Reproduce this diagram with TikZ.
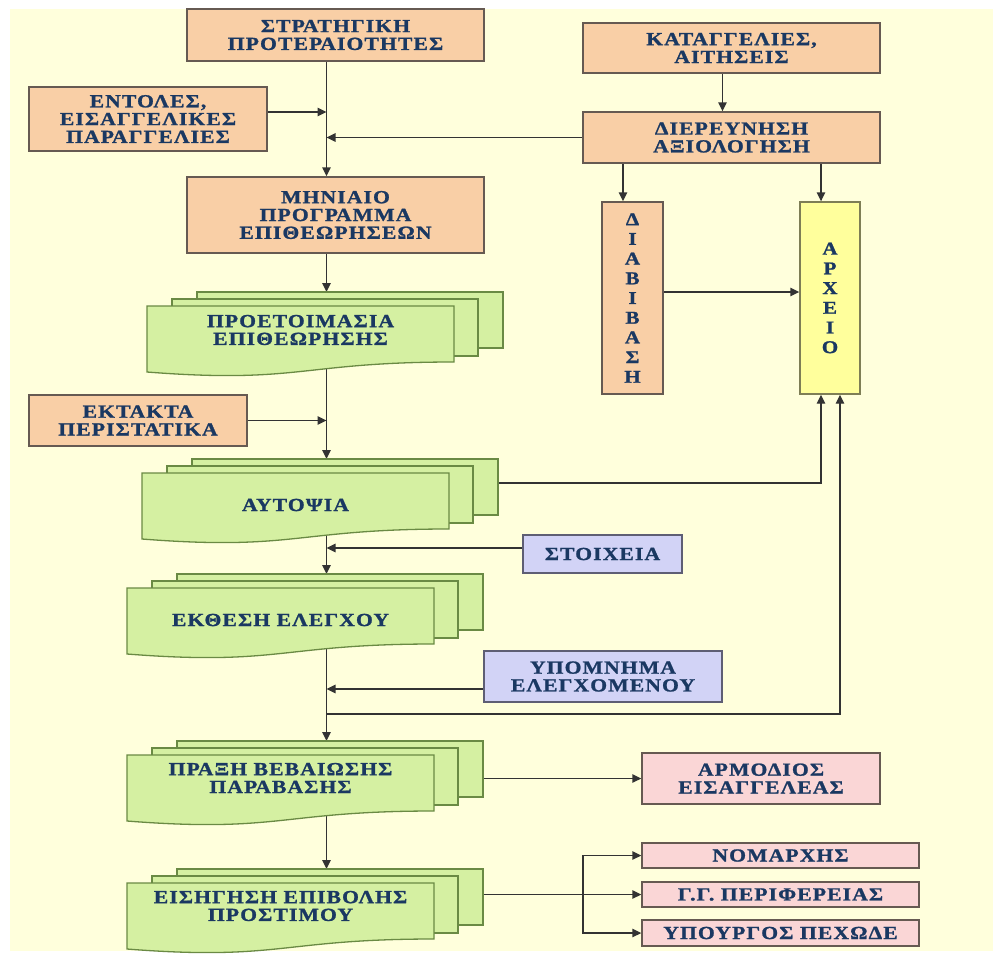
\documentclass[tikz,border=0pt]{standalone}
\usepackage{fontspec}
\newfontfamily\lblfont[FakeStretch=1.17,LetterSpace=6,FakeBold=1.2]{Liberation Serif Bold}
\usetikzlibrary{arrows.meta}
\pgfdeclarelayer{backlayer}
\pgfdeclarelayer{linelayer}
\pgfsetlayers{backlayer,linelayer,main}
\definecolor{bgy}{HTML}{FFFFDC}
\definecolor{orng}{HTML}{F9CFA6}
\definecolor{lav}{HTML}{D2D3F6}
\definecolor{pnk}{HTML}{FAD6D6}
\definecolor{grn}{HTML}{D5F0A2}
\definecolor{ylw}{HTML}{FFFF9C}
\definecolor{txt}{HTML}{1A3862}
\definecolor{edge}{HTML}{665A52}
\definecolor{ledge}{HTML}{5E5E74}
\definecolor{yedge}{HTML}{7E7E55}
\definecolor{gedge}{HTML}{6A8A44}
\definecolor{ln}{HTML}{333333}
\newcommand\lbltext{\lblfont\fontsize{18.5}{17.8}\selectfont}
\newcommand\vstack[1]{\parbox{30pt}{\centering\fontsize{18}{19.7}\selectfont #1}}
\tikzset{
 box/.style={draw=edge, line width=1.4pt, align=center, inner sep=0pt, font=\lbltext, text=txt},
 obox/.style={box, fill=orng},
 lbox/.style={box, fill=lav, draw=ledge},
 pbox/.style={box, fill=pnk},
 ybox/.style={box, fill=ylw, draw=yedge},
 sheet/.style={draw=gedge, line width=1.3pt, fill=grn, line join=miter},
 lbl/.style={align=center, font=\lbltext, text=txt, inner sep=0pt},
 con/.style={draw=ln, line width=1.4pt},
 arr/.style={con, -{Triangle[length=9pt,width=8.5pt]}},
}
\newcommand\mdoc[5]{%
\begin{scope}[shift={(#2,#3)}]
 \draw[sheet] (50,-14) rectangle (356,42);
 \draw[sheet] (25,-7) rectangle (331,50);
 \draw[sheet] (0,0) -- (307,0) -- (307,56) .. controls (153.5,56) and (153.5,78) .. (0,66) -- cycle;
 \coordinate (#1-top) at (50,-14);
 \coordinate (#1-bot) at (25,50);
 \coordinate (#1-r) at (356,10);
 \node[lbl] (#1) at (153.5,#4) {#5};
\end{scope}}
\begin{document}
\begin{tikzpicture}[x=1pt,y=-1pt]
\useasboundingbox (0,0) rectangle (993,956);
\begin{pgfonlayer}{backlayer}
 \fill[white] (0,0) rectangle (993,956);
 \fill[bgy] (10,9) rectangle (993,951);
\end{pgfonlayer}
\coordinate (spine) at (326.5,0);
\node[obox, minimum width=297pt, minimum height=52pt] (strat) at (335.5,35) {ΣΤΡΑΤΗΓΙΚΗ\\ΠΡΟΤΕΡΑΙΟΤΗΤΕΣ};
\node[obox, minimum width=238pt, minimum height=64pt] (entol) at (148,119) {ΕΝΤΟΛΕΣ,\\ΕΙΣΑΓΓΕΛΙΚΕΣ\\ΠΑΡΑΓΓΕΛΙΕΣ};
\node[obox, minimum width=297pt, minimum height=76pt] (minia) at (335.5,215) {ΜΗΝΙΑΙΟ\\ΠΡΟΓΡΑΜΜΑ\\ΕΠΙΘΕΩΡΗΣΕΩΝ};
\node[obox, minimum width=297pt, minimum height=50pt] (katag) at (731.5,48) {ΚΑΤΑΓΓΕΛΙΕΣ,\\ΑΙΤΗΣΕΙΣ};
\node[obox, minimum width=297pt, minimum height=51pt] (dier) at (731.5,137.5) {ΔΙΕΡΕΥΝΗΣΗ\\ΑΞΙΟΛΟΓΗΣΗ};
\node[obox, minimum width=61pt, minimum height=192pt] (diab) at (632.5,298) {\vstack{Δ\\Ι\\Α\\Β\\Ι\\Β\\Α\\Σ\\Η}};
\node[ybox, minimum width=60pt, minimum height=192pt] (arch) at (830,298) {\raisebox{10pt}{\vstack{Α\\Ρ\\Χ\\Ε\\Ι\\Ο}}};
\node[obox, minimum width=218pt, minimum height=51pt] (ektak) at (138,420.5) {ΕΚΤΑΚΤΑ\\ΠΕΡΙΣΤΑΤΙΚΑ};
\node[lbox, minimum width=159pt, minimum height=38pt] (stoix) at (602.5,554) {ΣΤΟΙΧΕΙΑ};
\node[lbox, minimum width=238pt, minimum height=51pt] (ypomn) at (603,676.5) {ΥΠΟΜΝΗΜΑ\\ΕΛΕΓΧΟΜΕΝΟΥ};
\node[pbox, minimum width=238pt, minimum height=51pt] (armod) at (761,778.5) {ΑΡΜΟΔΙΟΣ\\ΕΙΣΑΓΓΕΛΕΑΣ};
\node[pbox, minimum width=277pt, minimum height=25pt] (nomar) at (780.5,855.5) {ΝΟΜΑΡΧΗΣ};
\node[pbox, minimum width=277pt, minimum height=25pt] (gg) at (780.5,894.5) {Γ.Γ. ΠΕΡΙΦΕΡΕΙΑΣ};
\node[pbox, minimum width=277pt, minimum height=26pt] (ypour) at (780.5,933) {ΥΠΟΥΡΓΟΣ ΠΕΧΩΔΕ};
\mdoc{prep}{147}{306}{24}{ΠΡΟΕΤΟΙΜΑΣΙΑ\\ΕΠΙΘΕΩΡΗΣΗΣ}
\mdoc{auto}{142}{473}{32}{ΑΥΤΟΨΙΑ}
\mdoc{ekth}{127}{588}{32}{ΕΚΘΕΣΗ ΕΛΕΓΧΟΥ}
\mdoc{prx}{127}{755}{23}{ΠΡΑΞΗ ΒΕΒΑΙΩΣΗΣ\\ΠΑΡΑΒΑΣΗΣ}
\mdoc{eis}{127}{883}{23}{ΕΙΣΗΓΗΣΗ ΕΠΙΒΟΛΗΣ\\ΠΡΟΣΤΙΜΟΥ}
\coordinate (junc) at (326.5,714);
\coordinate (fork) at (583,894.5);
\begin{pgfonlayer}{linelayer}
\draw[arr] (strat.south -| spine) -- (minia.north -| spine);
\draw[arr] ([yshift=7pt]entol.east) -- ([yshift=7pt]entol.east -| spine);
\draw[arr] (dier.west) -- (dier.west -| spine);
\draw[arr] ([xshift=-9pt]katag.south) -- ([xshift=-9pt]dier.north);
\draw[arr] ([xshift=-9.5pt]diab.north |- dier.south) -- ([xshift=-9.5pt]diab.north);
\draw[arr] ([xshift=-9pt]arch.north |- dier.south) -- ([xshift=-9pt]arch.north);
\draw[arr] ([yshift=6pt]diab.east) -- ([yshift=6pt]arch.west);
\draw[arr] (minia.south -| spine) -- (prep-top -| spine);
\draw[arr] (prep-bot -| spine) -- (auto-top -| spine);
\draw[arr] (ektak.east) -- (ektak.east -| spine);
\draw[arr] (auto-bot -| spine) -- (ekth-top -| spine);
\draw[arr] ([yshift=6pt]stoix.west) -- ([yshift=6pt]stoix.west -| spine);
\draw[arr] (auto-r) -| ([xshift=-9pt]arch.south);
\draw[arr] (ekth-bot -| spine) -- (prx-top -| spine);
\draw[arr] ([yshift=-12.5pt]ypomn.west) -- ([yshift=-12.5pt]ypomn.west -| spine);
\draw[arr] (junc) -| ([xshift=10pt]arch.south);
\draw[arr] (prx-bot -| spine) -- (eis-top -| spine);
\draw[arr] (armod.west -| prx-r) -- (armod.west);
\draw[arr] (gg.west -| eis-r) -- (gg.west);
\draw[arr] (fork) |- (nomar.west);
\draw[arr] (fork) |- (ypour.west);
\end{pgfonlayer}
\end{tikzpicture}
\end{document}
